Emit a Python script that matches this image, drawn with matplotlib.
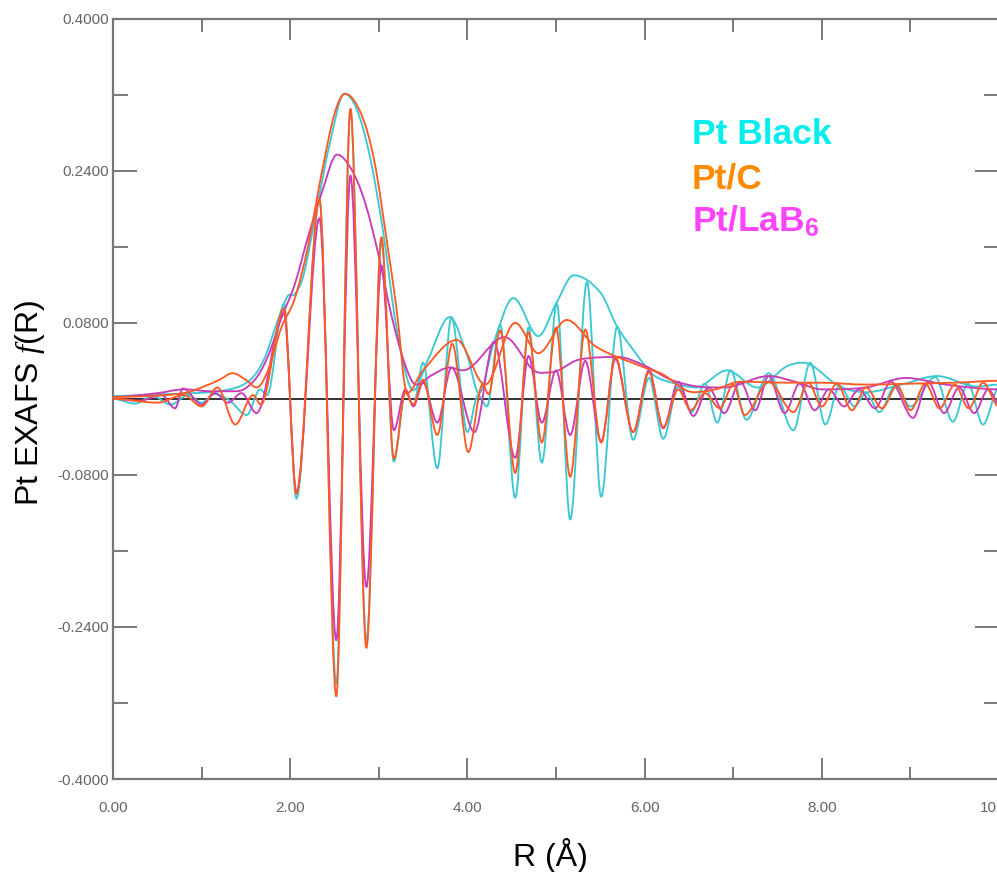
import numpy as np
import matplotlib
matplotlib.use("Agg")
import matplotlib.pyplot as plt
from matplotlib.path import Path
from matplotlib.patches import PathPatch

plt.rcParams['font.family'] = ['Liberation Sans', 'DejaVu Sans']
plt.rcParams['mathtext.fontset'] = 'custom'
plt.rcParams['mathtext.rm'] = 'Liberation Sans:bold'
plt.rcParams['mathtext.it'] = 'Liberation Serif:italic'

# ---------------- data ----------------
# Pt Black : magnitude and real part
black_mag_r = [0.0, 0.3, 0.6, 0.9, 1.2, 1.45, 1.6, 1.72, 1.85, 1.97, 2.05, 2.15, 2.3, 2.45, 2.61,
               2.75, 2.9, 3.05, 3.2, 3.39, 3.55, 3.8, 4.0, 4.13, 4.3, 4.52, 4.8, 5.0, 5.2, 5.5,
               5.69, 5.9, 6.1, 6.35, 6.58, 6.93, 7.27, 7.6, 7.79, 8.2, 8.5, 8.9, 9.3, 9.75, 10.0]
black_mag_v = [0.003, 0.004, 0.005, 0.006, 0.008, 0.014, 0.025, 0.045, 0.08, 0.108, 0.11, 0.13,
               0.2, 0.27, 0.321, 0.305, 0.255, 0.175, 0.075, 0.009, 0.04, 0.086, 0.045, 0.006,
               0.06, 0.106, 0.066, 0.1, 0.13, 0.112, 0.076, 0.048, 0.025, 0.016, 0.012, 0.03,
               0.012, 0.034, 0.038, 0.013, 0.007, 0.015, 0.024, 0.013, 0.015]
black_re_r = [0.0, 0.25, 0.45, 0.65, 0.85, 1.0, 1.15, 1.32, 1.51, 1.66, 1.74, 1.93, 2.07, 2.33,
              2.52, 2.68, 2.86, 3.03, 3.17, 3.3, 3.39, 3.5, 3.66, 3.82, 4.0, 4.12, 4.22, 4.37,
              4.54, 4.69, 4.84, 5.01, 5.16, 5.35, 5.51, 5.69, 5.87, 6.05, 6.21, 6.38, 6.53, 6.68,
              6.82, 6.97, 7.15, 7.4, 7.68, 7.87, 8.04, 8.2, 8.37, 8.5, 8.65, 8.83, 9.0, 9.28,
              9.48, 9.65, 9.82, 10.0]
black_re_v = [0.0, -0.005, 0.003, -0.006, 0.004, -0.004, 0.005, -0.002, -0.017, 0.01, 0.004,
              0.1, -0.105, 0.21, -0.300, 0.305, -0.255, 0.165, -0.066, 0.008, -0.007, 0.038,
              -0.073, 0.086, -0.035, 0.004, -0.008, 0.078, -0.104, 0.075, -0.067, 0.1, -0.127,
              0.123, -0.103, 0.076, -0.043, 0.022, -0.042, 0.013, -0.014, 0.016, -0.025, 0.03,
              -0.022, 0.027, -0.033, 0.038, -0.027, 0.014, -0.008, 0.006, -0.014, 0.014, -0.008,
              0.023, -0.024, 0.016, -0.027, 0.012]

# Pt/C : magnitude and real part
c_mag_r = [0.0, 0.4, 0.8, 1.0, 1.2, 1.35, 1.5, 1.62, 1.75, 1.9, 2.05, 2.2, 2.35, 2.5, 2.62,
           2.8, 2.95, 3.1, 3.2, 3.32, 3.5, 3.88, 4.2, 4.54, 4.8, 5.12, 5.45, 5.97, 6.2, 6.55,
           6.8, 7.08, 7.6, 8.0, 8.5, 9.0, 9.5, 10.0]
c_mag_v = [0.002, 0.003, 0.006, 0.012, 0.02, 0.027, 0.02, 0.012, 0.03, 0.075, 0.105, 0.16,
           0.235, 0.3, 0.321, 0.3, 0.25, 0.16, 0.095, 0.006, 0.03, 0.062, 0.015, 0.08, 0.048,
           0.083, 0.055, 0.034, 0.026, 0.007, 0.01, 0.018, 0.017, 0.017, 0.015, 0.016, 0.017,
           0.019]
c_re_r = [0.0, 0.5, 0.8, 1.0, 1.18, 1.38, 1.58, 1.67, 1.93, 2.07, 2.33, 2.52, 2.68, 2.86, 3.03,
          3.17, 3.3, 3.39, 3.5, 3.66, 3.83, 4.01, 4.17, 4.24, 4.37, 4.54, 4.69, 4.84, 5.0, 5.16,
          5.33, 5.51, 5.67, 5.87, 6.05, 6.21, 6.38, 6.52, 6.68, 6.85, 7.0, 7.13, 7.4, 7.68, 7.85,
          8.0, 8.17, 8.34, 8.5, 8.68, 8.85, 9.0, 9.17, 9.33, 9.5, 9.66, 9.82, 10.0]
c_re_v = [0.0, -0.004, 0.004, -0.008, 0.012, -0.027, 0.004, -0.006, 0.095, -0.100, 0.21,
          -0.313, 0.305, -0.262, 0.17, -0.063, 0.007, -0.006, 0.02, -0.038, 0.058, -0.056,
          0.015, 0.005, 0.072, -0.078, 0.07, -0.046, 0.075, -0.082, 0.073, -0.046, 0.044,
          -0.035, 0.028, -0.03, 0.01, -0.012, 0.006, -0.01, 0.015, -0.017, 0.018, -0.014, 0.017,
          -0.008, 0.016, -0.012, 0.012, -0.01, 0.014, -0.012, 0.016, -0.01, 0.015, -0.01,
          0.017, -0.008]

# Pt/LaB6 : magnitude and real part
lab_mag_r = [0.0, 0.5, 0.8, 1.1, 1.4, 1.6, 1.75, 1.9, 2.05, 2.2, 2.35, 2.53, 2.7, 2.85, 3.0,
             3.15, 3.3, 3.42, 3.6, 3.8, 3.95, 4.42, 4.75, 4.95, 5.25, 5.7, 6.0, 6.3, 6.6, 6.9,
             7.4, 7.7, 8.0, 8.5, 8.95, 9.4, 10.0]
lab_mag_v = [0.002, 0.006, 0.01, 0.008, 0.008, 0.02, 0.045, 0.085, 0.12, 0.17, 0.215, 0.257,
             0.24, 0.205, 0.15, 0.085, 0.035, 0.015, 0.025, 0.033, 0.03, 0.065, 0.03, 0.028,
             0.041, 0.044, 0.035, 0.02, 0.013, 0.012, 0.024, 0.018, 0.01, 0.012, 0.022, 0.015,
             0.01]
lab_re_r = [0.0, 0.3, 0.55, 0.7, 0.79, 1.0, 1.15, 1.3, 1.45, 1.62, 1.93, 2.07, 2.33, 2.52, 2.68,
            2.86, 3.03, 3.17, 3.3, 3.39, 3.5, 3.66, 3.82, 4.08, 4.3, 4.54, 4.69, 4.84, 5.0, 5.16,
            5.33, 5.51, 5.67, 5.87, 6.05, 6.21, 6.38, 6.55, 6.72, 6.9, 7.08, 7.25, 7.4, 7.58,
            7.75, 7.92, 8.08, 8.25, 8.42, 8.6, 8.78, 9.03, 9.2, 9.38, 9.55, 9.72, 9.88, 10.0]
lab_re_v = [0.0, -0.002, 0.004, -0.01, 0.011, -0.006, 0.006, -0.004, 0.006, -0.015, 0.09,
            -0.098, 0.19, -0.254, 0.235, -0.198, 0.14, -0.033, 0.01, -0.008, 0.017, -0.025,
            0.033, -0.035, 0.06, -0.062, 0.045, -0.025, 0.03, -0.038, 0.04, -0.045, 0.042,
            -0.035, 0.03, -0.031, 0.018, -0.018, 0.012, -0.015, 0.018, -0.012, 0.024, -0.015,
            0.016, -0.012, 0.01, -0.008, 0.01, -0.01, 0.018, -0.02, 0.018, -0.015, 0.012,
            -0.015, 0.01, -0.005]

x_ticks_major = [0, 2, 4, 6, 8, 10]
x_tick_labels = ['0.00', '2.00', '4.00', '6.00', '8.00', '10.00']
x_ticks_minor = [1, 3, 5, 7, 9]
y_ticks_major = [0.4, 0.24, 0.08, -0.08, -0.24, -0.4]
y_tick_labels = ['0.4000', '0.2400', '0.0800', '-0.0800', '-0.2400', '-0.4000']
y_ticks_minor = [0.32, 0.16, 0.0, -0.16, -0.32]

legend_names = ['Pt Black', 'Pt/C', 'Pt/LaB$_6$']
legend_colors = ['#00EEEE', '#FF8C00', '#FF44FF']
line_colors = {'black': '#3CC8D2', 'c': '#FF5A24', 'lab': '#C83CB8'}


def smooth_path(xs, ys):
    xs = np.asarray(xs, float)
    ys = np.asarray(ys, float)
    n = len(xs)
    m = np.zeros(n)
    for i in range(1, n - 1):
        a = ys[i] - ys[i - 1]
        b = ys[i + 1] - ys[i]
        if a * b > 0:
            m[i] = (ys[i + 1] - ys[i - 1]) / (xs[i + 1] - xs[i - 1])
    verts = [(xs[0], ys[0])]
    codes = [Path.MOVETO]
    for i in range(n - 1):
        h = xs[i + 1] - xs[i]
        verts += [(xs[i] + h / 3, ys[i] + m[i] * h / 3),
                  (xs[i + 1] - h / 3, ys[i + 1] - m[i + 1] * h / 3),
                  (xs[i + 1], ys[i + 1])]
        codes += [Path.CURVE4] * 3
    return Path(verts, codes)


W, H = 997, 872
fig = plt.figure(figsize=(W / 100, H / 100), dpi=100)
ax = fig.add_axes([113 / W, (H - 779) / H, (999 - 113) / W, (779 - 18.7) / H])
ax.set_xlim(0, 10)
ax.set_ylim(-0.4, 0.4)

ax.axhline(0, color='#333333', lw=1.4, zorder=1)

series = [
    (black_mag_r, black_mag_v, black_re_r, black_re_v, line_colors['black']),
    (lab_mag_r, lab_mag_v, lab_re_r, lab_re_v, line_colors['lab']),
    (c_mag_r, c_mag_v, c_re_r, c_re_v, line_colors['c']),
]
z = 2
for mr, mv, rr, rv, col in series:
    for xs, ys in ((mr, mv), (rr, rv)):
        ax.add_patch(PathPatch(smooth_path(xs, ys), fill=False, edgecolor=col,
                               lw=1.35, zorder=z, capstyle='round', joinstyle='round'))
    z += 1

spine_col = '#777777'
for s in ax.spines.values():
    s.set_color(spine_col)
    s.set_linewidth(1.6)

ax.set_xticks(x_ticks_major)
ax.set_xticklabels(x_tick_labels)
ax.set_xticks(x_ticks_minor, minor=True)
ax.set_yticks(y_ticks_major)
ax.set_yticklabels(y_tick_labels)
ax.set_yticks(y_ticks_minor, minor=True)
ax.tick_params(which='both', direction='in', top=True, right=True, color='#555555',
               width=1.1, labelcolor='#666666', labelsize=11)
ax.tick_params(axis='y', which='major', length=17, pad=3)
ax.tick_params(axis='y', which='minor', length=11)
ax.tick_params(axis='x', which='major', length=15, pad=16)
ax.tick_params(axis='x', which='minor', length=9)

fig.text(550 / W, 1 - 855 / H, 'R (Å)', fontsize=23, ha='center', va='center')
fig.text(30 / W, 1 - 403 / H, 'Pt EXAFS $f$(R)', fontsize=23, ha='center', va='center',
         rotation=90)

for i, (name, col) in enumerate(zip(legend_names, legend_colors)):
    fig.text(692 / W, 1 - (144 + 44 * i) / H, name, color=col, fontsize=25.5,
             fontweight='bold', ha='left', va='baseline')

fig.savefig('out.png', dpi=100)
